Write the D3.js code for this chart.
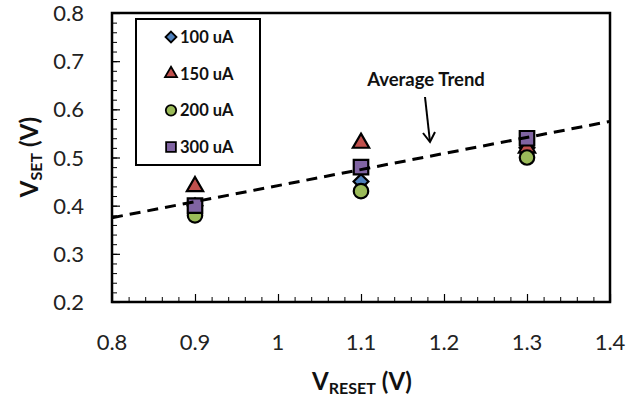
<!DOCTYPE html>
<html>
<head>
<meta charset="utf-8">
<script src="https://cdn.jsdelivr.net/npm/d3@7"></script>
<style>
  html, body { margin: 0; padding: 0; background: #fff; }
  svg { display: block; }
  text { font-family: Lato, "Open Sans", sans-serif; }
</style>
</head>
<body>
<svg id="chart" width="629" height="401"></svg>
<script>
// Reset voltage (x) for each measured group
const vReset = [0.9, 1.1, 1.3];

// Set voltage for each compliance current
const seriesNames = ["100 uA", "150 uA", "200 uA", "300 uA"];
const set100 = [0.40, 0.45, 0.52];
const set150 = [0.44, 0.53, 0.52];
const set200 = [0.38, 0.43, 0.50];
const set300 = [0.40, 0.48, 0.54];

// Average trend line end points
const trendX = [0.8, 1.4];
const trendY = [0.375, 0.575];

// Tick labels
const xTicks = [0.8, 0.9, 1, 1.1, 1.2, 1.3, 1.4];
const yTicks = [0.2, 0.3, 0.4, 0.5, 0.6, 0.7, 0.8];

// Square-diamond marker (a square rotated 45 degrees)
const squareDiamond = {
  draw(context, size) {
    const r = Math.sqrt(size / 2);
    context.moveTo(0, -r);
    context.lineTo(r, 0);
    context.lineTo(0, r);
    context.lineTo(-r, 0);
    context.closePath();
  }
};

const series = [
  { name: seriesNames[0], values: set100, shape: squareDiamond, fill: "#4F81BD", size: 110, lsize: 60 },
  { name: seriesNames[1], values: set150, shape: d3.symbolTriangle, fill: "#C0504D", size: 115, lsize: 62 },
  { name: seriesNames[2], values: set200, shape: d3.symbolCircle, fill: "#9BBB59", size: 165, lsize: 85 },
  { name: seriesNames[3], values: set300, shape: d3.symbolSquare, fill: "#8064A2", size: 210, lsize: 95 }
];

const svg = d3.select("#chart");
const plot = { left: 112, right: 610, top: 13, bottom: 302 };

const x = d3.scaleLinear().domain([0.8, 1.4]).range([plot.left, plot.right]);
const y = d3.scaleLinear().domain([0.2, 0.8]).range([plot.bottom, plot.top]);

// Minor ticks (inward)
const minorX = d3.range(0.8, 1.4001, 0.02);
const minorY = d3.range(0.2, 0.8001, 0.02);

svg.append("g")
  .attr("transform", `translate(0,${plot.bottom})`)
  .call(d3.axisTop(x).tickValues(minorX).tickSize(5).tickFormat(""))
  .call(g => g.select(".domain").remove())
  .call(g => g.selectAll("line").attr("stroke", "#000").attr("stroke-width", 1));

svg.append("g")
  .attr("transform", `translate(${plot.left},0)`)
  .call(d3.axisRight(y).tickValues(minorY).tickSize(5).tickFormat(""))
  .call(g => g.select(".domain").remove())
  .call(g => g.selectAll("line").attr("stroke", "#000").attr("stroke-width", 1));

// Major ticks and labels
svg.append("g")
  .attr("transform", `translate(0,${plot.bottom})`)
  .call(d3.axisTop(x).tickValues(xTicks).tickSize(8).tickFormat(""))
  .call(g => g.select(".domain").remove())
  .call(g => g.selectAll("line").attr("stroke", "#000").attr("stroke-width", 1.2));

svg.append("g")
  .attr("transform", `translate(${plot.left},0)`)
  .call(d3.axisRight(y).tickValues(yTicks).tickSize(8).tickFormat(""))
  .call(g => g.select(".domain").remove())
  .call(g => g.selectAll("line").attr("stroke", "#000").attr("stroke-width", 1.2));

svg.append("g").selectAll("text")
  .data(xTicks).join("text")
  .attr("x", d => x(d))
  .attr("y", 350)
  .attr("text-anchor", "middle")
  .attr("font-size", 22)
  .attr("fill", "#222")
  .text(d => d3.format("")(d));

svg.append("g").selectAll("text")
  .data(yTicks).join("text")
  .attr("x", 84)
  .attr("y", d => y(d) + 8)
  .attr("text-anchor", "end")
  .attr("font-size", 22)
  .attr("fill", "#222")
  .text(d => d.toFixed(1));

// Plot frame
svg.append("rect")
  .attr("x", plot.left).attr("y", plot.top)
  .attr("width", plot.right - plot.left).attr("height", plot.bottom - plot.top)
  .attr("fill", "none").attr("stroke", "#000").attr("stroke-width", 2.5);

// Markers
series.forEach(s => {
  svg.append("g").selectAll("path")
    .data(vReset.map((v, i) => [v, s.values[i]]))
    .join("path")
    .attr("transform", d => `translate(${x(d[0])},${y(d[1])})`)
    .attr("d", d3.symbol().type(s.shape).size(s.size))
    .attr("fill", s.fill)
    .attr("stroke", "#000")
    .attr("stroke-width", 2.2);
});

// Average trend line
svg.append("path")
  .datum(trendX.map((v, i) => [v, trendY[i]]))
  .attr("d", d3.line().x(d => x(d[0])).y(d => y(d[1])))
  .attr("fill", "none")
  .attr("stroke", "#000")
  .attr("stroke-width", 3)
  .attr("stroke-dasharray", "11,7");

// Annotation
svg.append("text")
  .attr("x", 426).attr("y", 86)
  .attr("text-anchor", "middle")
  .attr("font-size", 18.5)
  .attr("font-weight", "bold")
  .attr("fill", "#111")
  .text("Average Trend");

svg.append("line")
  .attr("x1", 425).attr("y1", 97).attr("x2", 430).attr("y2", 142)
  .attr("stroke", "#000").attr("stroke-width", 2);
svg.append("path")
  .attr("d", "M423,133 L430,142 L435,132")
  .attr("fill", "none").attr("stroke", "#000").attr("stroke-width", 2);

// Legend
const legend = svg.append("g");
legend.append("rect")
  .attr("x", 136).attr("y", 19).attr("width", 124).attr("height", 146)
  .attr("fill", "#fff").attr("stroke", "#000").attr("stroke-width", 2);
const legY = d3.scalePoint().domain(seriesNames).range([37, 147]);
series.forEach(s => {
  legend.append("path")
    .attr("transform", `translate(171,${legY(s.name)})`)
    .attr("d", d3.symbol().type(s.shape).size(s.lsize))
    .attr("fill", s.fill).attr("stroke", "#000").attr("stroke-width", 1.8);
  legend.append("text")
    .attr("x", 180).attr("y", legY(s.name) + 6)
    .attr("font-size", 16.5).attr("font-weight", "bold").attr("fill", "#111")
    .text(s.name);
});

// Axis titles
const xt = svg.append("text")
  .attr("x", 362).attr("y", 390)
  .attr("text-anchor", "middle")
  .attr("font-weight", "bold").attr("fill", "#111");
xt.append("tspan").attr("font-size", 24).text("V");
xt.append("tspan").attr("font-size", 16).attr("dy", 4).text("RESET");
xt.append("tspan").attr("font-size", 24).attr("dy", -4).text(" (V)");

const yt = svg.append("text")
  .attr("transform", "translate(38,157) rotate(-90)")
  .attr("text-anchor", "middle")
  .attr("font-weight", "bold").attr("fill", "#111");
yt.append("tspan").attr("font-size", 24).text("V");
yt.append("tspan").attr("font-size", 16).attr("dy", 4).text("SET");
yt.append("tspan").attr("font-size", 24).attr("dy", -4).text(" (V)");
</script>
</body>
</html>
